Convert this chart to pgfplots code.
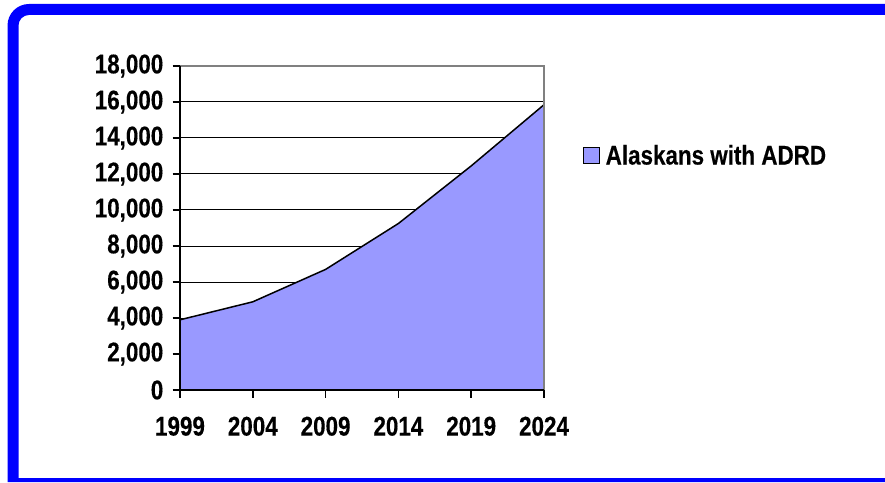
\documentclass[border=0pt]{standalone}
\usepackage{fontspec}
\setmainfont{Liberation Sans}[FakeStretch=0.83, BoldFeatures={FakeBold=0.3}]
\usepackage{pgfplots}
\pgfplotsset{compat=1.18}
\definecolor{frameblue}{RGB}{0,0,255}
\definecolor{areafill}{RGB}{153,153,255}
\definecolor{boxgray}{RGB}{128,128,128}

\begin{document}
\begin{tikzpicture}
\fill[white] (0pt,0pt) rectangle (885pt,482pt);
% blue frame, cut by the page edges on the right and at the bottom
\fill[frameblue, even odd rule]
    (885pt,0pt) -- (7.5pt,0pt) -- (7.5pt,456.5pt) arc[start angle=180, end angle=90, radius=21.5pt] -- (885pt,478pt) -- cycle
    (885pt,4pt) -- (18.5pt,4pt) -- (18.5pt,456.5pt) arc[start angle=180, end angle=90, radius=10.5pt] -- (885pt,467pt) -- cycle;

\begin{axis}[
    at={(180pt,92pt)}, anchor=south west,
    scale only axis, width=364pt, height=324pt,
    xmin=1999, xmax=2024, ymin=0, ymax=18000,
    xtick={1999,2004,2009,2014,2019,2024},
    ytick={0,2000,...,18000},
    xtick pos=bottom, ytick pos=left,
    scaled y ticks=false,
    /pgf/number format/.cd, 1000 sep={,}, assume math mode=true, /pgfplots/.cd,
    xticklabel={\pgfmathprintnumber[1000 sep={}]{\tick}},
    tick label style={font=\fontsize{27}{30}\selectfont\bfseries, text=black},
    yticklabel style={inner sep=0pt, xshift=-9pt},
    xticklabel style={inner sep=0pt, yshift=-19pt},
    axis line style={draw=none},
    tick align=outside,
    major tick length=7.5pt,
    tick style={black, line width=1.5pt},
    ymajorgrids, grid style={black, line width=1pt},
    legend style={at={(1.1071,0.7238)}, anchor=west, draw=none, fill=none,
        font=\fontsize{27}{30}\selectfont\bfseries, inner sep=0pt},
    legend image code/.code={
        \draw[fill=areafill, draw=black, line width=1pt] (0pt,-8pt) rectangle (16pt,8pt);
        \path (20pt,0pt);},
    clip=false,
]
\addplot[fill=areafill, draw=none] coordinates {
    (1999,3900) (2004,4900) (2009,6700) (2014,9250) (2019,12450) (2024,15850)
} \closedcycle;
\addlegendentry{Alaskans with ADRD}
\addplot[black, line width=1.5pt, forget plot] coordinates {
    (1999,3900) (2004,4900) (2009,6700) (2014,9250) (2019,12450) (2024,15850)
};
\draw[boxgray, line width=1.5pt] (rel axis cs:0,1) -- (rel axis cs:1,1) -- (rel axis cs:1,0);
\draw[black, line width=1.5pt] (rel axis cs:0,1) -- (rel axis cs:0,0) -- (rel axis cs:1,0);
\end{axis}
\end{tikzpicture}
\end{document}
